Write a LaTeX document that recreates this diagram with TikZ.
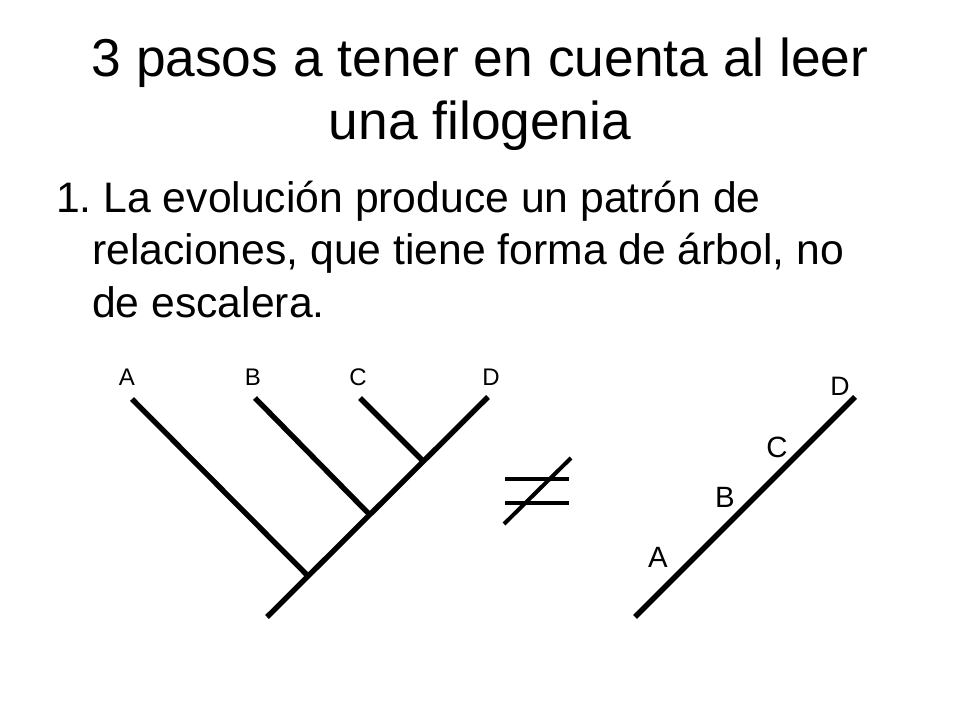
\documentclass[tikz,border=0pt]{standalone}
\usepackage{fontspec}
\setmainfont{Liberation Sans}
\begin{document}
\frenchspacing
\begin{tikzpicture}[x=0.75pt,y=-0.75pt,
  titletext/.style={anchor=base,inner sep=0pt,font=\fontsize{40}{44}\selectfont},
  bodytext/.style={anchor=base west,inner sep=0pt,font=\fontsize{32}{36}\selectfont},
  leaf/.style={anchor=base,inner sep=0pt,font=\fontsize{18}{20}\selectfont},
  bigleaf/.style={anchor=base,inner sep=0pt,font=\fontsize{22}{24}\selectfont},
  branch/.style={line width=4pt,line cap=butt},
  neqline/.style={line width=3pt}]
\useasboundingbox (0,0) rectangle (960,720);
\fill[white] (0,0) rectangle (960,720);
% title
\node[titletext] (t1) at (480,77) {3 pasos a tener en cuenta al leer};
\node[titletext] (t2) at (480,140) {una filogenia};
% body
\node[bodytext] (b1) at (56,213) {1. La evolución produce un patrón de};
\node[bodytext] (b2) at (92,265) {relaciones, que tiene forma de árbol, no};
\node[bodytext] (b3) at (92,317) {de escalera.};
% tree
\coordinate (root) at (267,617);
\coordinate (tD) at (488,397);
\coordinate (tA) at (132,399);
\coordinate (jA) at (307,575);
\coordinate (tB) at (255,398);
\coordinate (jB) at (370,515);
\coordinate (tC) at (360,398);
\coordinate (jC) at (422,460);
\draw[branch] (root) -- (tD);
\draw[branch] (tA) -- (jA);
\draw[branch] (tB) -- (jB);
\draw[branch] (tC) -- (jC);
\node[leaf] (lA) at (127,385) {A};
\node[leaf] (lB) at (253,385) {B};
\node[leaf] (lC) at (358,385) {C};
\node[leaf] (lD) at (491,385) {D};
% not equal
\coordinate (n1a) at (505,479);
\coordinate (n1b) at (569,479);
\coordinate (n2a) at (505,503);
\coordinate (n2b) at (569,503);
\coordinate (nsa) at (504,524);
\coordinate (nsb) at (571,458);
\draw[neqline] (n1a) -- (n1b);
\draw[neqline] (n2a) -- (n2b);
\draw[neqline] (nsa) -- (nsb);
% ladder
\coordinate (lbot) at (635,617);
\coordinate (ltop) at (855,397);
\draw[branch] (lbot) -- (ltop);
\node[bigleaf] (mA) at (658,567) {A};
\node[bigleaf] (mB) at (725,507) {B};
\node[bigleaf] (mC) at (777,457) {C};
\node[leaf,font=\fontsize{20}{22}\selectfont] (mD) at (840,395) {D};
\end{tikzpicture}
\end{document}
